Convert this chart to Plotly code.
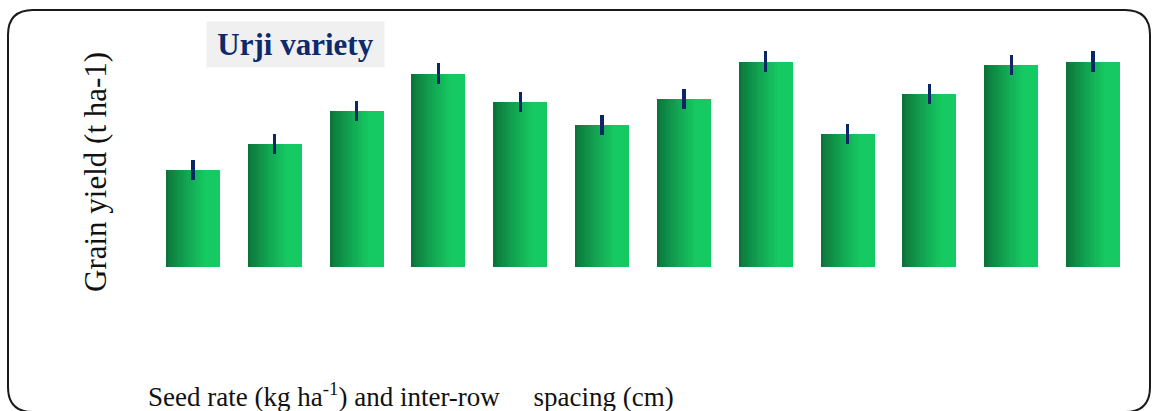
import plotly.graph_objects as go

# ---- data (y unit t/ha, axis hidden in the original) ----
treatments = ["T1", "T2", "T3", "T4", "T5", "T6", "T7", "T8", "T9", "T10", "T11", "T12"]
grain_yield = [1.95, 2.46, 3.13, 3.87, 3.31, 2.85, 3.36, 4.11, 2.67, 3.46, 4.05, 4.11]
yield_err = [0.20, 0.20, 0.20, 0.21, 0.20, 0.20, 0.20, 0.21, 0.20, 0.20, 0.20, 0.21]
title_text = "<b>Urji variety</b>"
y_label = "Grain yield (t ha-1)"
x_label = "Seed rate (kg ha<sup>-1</sup>) and inter-row\u00a0\u00a0\u00a0\u00a0 spacing (cm)"

W, H = 1158, 411
ML, MR, MT, MB = 152, 24, 20, 144
PW, PH = W - ML - MR, H - MT - MB
YMAX = 4.94
BAR_W = 0.66

def px2x(px):
    return (px - ML) / PW

def py2y(py):
    return (H - MB - py) / PH

xs = list(range(len(treatments)))
fig = go.Figure()

# horizontal gradient fill built from stacked slices of the same bars
left = (12, 116, 58)
right = (22, 202, 99)
N = 24
for i in range(N):
    t = i / (N - 1)
    k = min(1.0, t / 0.75) ** 0.85
    c = tuple(round(left[j] + (right[j] - left[j]) * k) for j in range(3))
    off = -BAR_W / 2 + BAR_W * i / N
    fig.add_trace(go.Bar(
        x=xs, y=grain_yield,
        offset=off, width=BAR_W / 2 - off,
        marker=dict(color="rgb(%d,%d,%d)" % c, line=dict(width=0)),
        hoverinfo="skip", showlegend=False,
    ))

# error bars on a transparent full-width copy
fig.add_trace(go.Bar(
    x=xs, y=grain_yield, width=BAR_W,
    marker=dict(color="rgba(0,0,0,0)", line=dict(width=0)),
    error_y=dict(type="data", array=yield_err, visible=True,
                 color="#0b2566", thickness=3.2, width=0),
    hovertext=treatments, hoverinfo="text+y", textposition="none",
    showlegend=False,
))

# rounded frame
x0, x1, y0, y1, r = px2x(8), px2x(1150), py2y(10), py2y(412), 25
rx, ry = r / PW, r / PH
path = (f"M {x0+rx},{y0} L {x1-rx},{y0} Q {x1},{y0} {x1},{y0-ry} "
        f"L {x1},{y1+ry} Q {x1},{y1} {x1-rx},{y1} L {x0+rx},{y1} "
        f"Q {x0},{y1} {x0},{y1+ry} L {x0},{y0-ry} Q {x0},{y0} {x0+rx},{y0} Z")

fig.update_layout(
    width=W, height=H,
    margin=dict(l=ML, r=MR, t=MT, b=MB),
    paper_bgcolor="white", plot_bgcolor="white",
    barmode="overlay", bargap=0,
    showlegend=False,
    xaxis=dict(range=[-0.5, len(treatments) - 0.5], visible=False),
    yaxis=dict(range=[0, YMAX], visible=False),
    shapes=[dict(type="path", path=path, xref="paper", yref="paper",
                 line=dict(color="#1a1a1a", width=2), fillcolor="rgba(0,0,0,0)")],
    annotations=[
        dict(text=title_text, xref="paper", yref="paper",
             x=px2x(295), y=py2y(44.5), xanchor="center", yanchor="middle",
             showarrow=False, bgcolor="#f0f0f0", width=177, height=45, borderpad=0,
             font=dict(family="Liberation Serif", size=31, color="#0d2a6b")),
        dict(text=y_label, xref="paper", yref="paper", textangle=-90,
             x=px2x(95), y=py2y(172), xanchor="center", yanchor="middle",
             showarrow=False,
             font=dict(family="Liberation Serif", size=31, color="#111111")),
        dict(text=x_label, xref="paper", yref="paper",
             x=px2x(146), y=py2y(395), xanchor="left", yanchor="middle",
             showarrow=False,
             font=dict(family="Liberation Serif", size=27, color="#111111")),
    ],
)

fig.write_html("out.html")
